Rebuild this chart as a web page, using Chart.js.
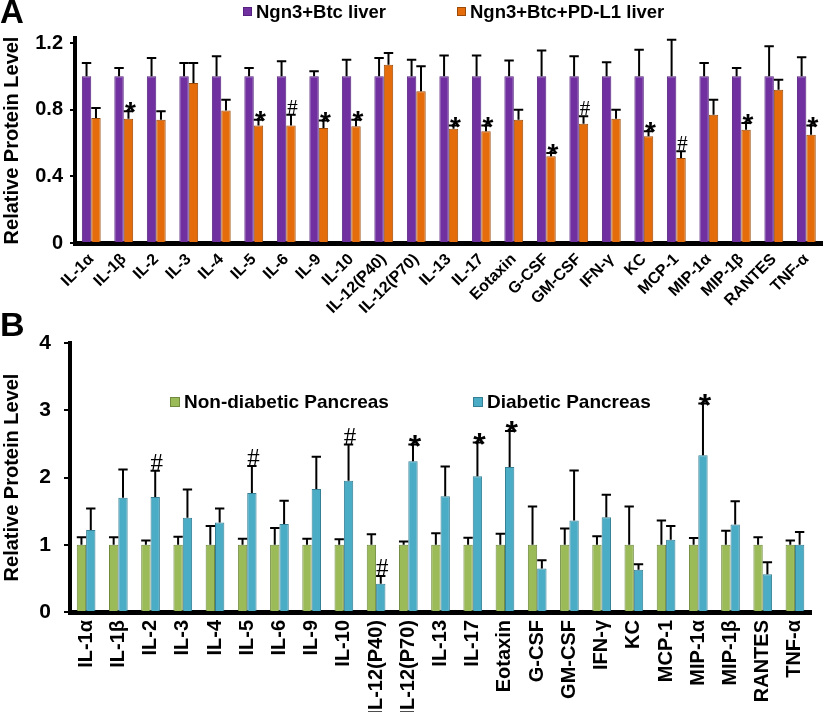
<!doctype html>
<html lang="en">
<head>
  <meta charset="utf-8">
  <title>Relative Protein Level</title>
  <style>
    * {
      margin: 0;
      padding: 0;
    }
    body {
      background: #fff;
      width: 827px;
      height: 712px;
      overflow: hidden;
      position: relative;
    }
    canvas {
      display: block;
      position: absolute;
      left: 0;
    }
    #chartA { top: 0; }
    #chartB { top: 300px; }
  </style>
</head>
<body>
<canvas id="chartA" width="827" height="320"></canvas>
<canvas id="chartB" width="827" height="412"></canvas>
<script src="https://cdn.jsdelivr.net/npm/chart.js"></script>
<script>
  // categories, same for both panels
  const cytokines = ['IL-1α', 'IL-1β', 'IL-2', 'IL-3', 'IL-4', 'IL-5', 'IL-6', 'IL-9', 'IL-10',
    'IL-12(P40)', 'IL-12(P70)', 'IL-13', 'IL-17', 'Eotaxin', 'G-CSF', 'GM-CSF', 'IFN-γ', 'KC',
    'MCP-1', 'MIP-1α', 'MIP-1β', 'RANTES', 'TNF-α'];

  // panel A - liver
  const liverCtrl = [1, 1, 1, 1, 1, 1, 1, 1, 1, 1, 1, 1, 1, 1, 1, 1, 1, 1, 1, 1, 1, 1, 1];
  const liverCtrlErr = [1.08, 1.05, 1.11, 1.08, 1.12, 1.05, 1.09, 1.03, 1.10, 1.11, 1.10, 1.125,
    1.125, 1.095, 1.155, 1.12, 1.085, 1.16, 1.22, 1.08, 1.05, 1.18, 1.115];
  const liverPdl1 = [0.75, 0.745, 0.74, 0.96, 0.795, 0.705, 0.705, 0.69, 0.70, 1.07, 0.91, 0.685,
    0.67, 0.74, 0.52, 0.715, 0.745, 0.64, 0.51, 0.77, 0.68, 0.92, 0.65];
  const liverPdl1Err = [0.81, 0.79, 0.79, 1.08, 0.86, 0.74, 0.77, 0.735, 0.74, 1.14, 1.06, 0.705,
    0.705, 0.80, 0.54, 0.76, 0.80, 0.67, 0.55, 0.86, 0.72, 0.98, 0.705];
  const liverMarks = ['', '*', '', '', '', '*', '#', '*', '*', '', '', '*', '*', '', '*', '#', '',
    '*', '#', '', '*', '', '*'];
  const ticksA = [0, 0.4, 0.8, 1.2];

  // panel B - pancreas
  const pancNormal = [1, 1, 1, 1, 1, 1, 1, 1, 1, 1, 1, 1, 1, 1, 1, 1, 1, 1, 1, 1, 1, 1, 1];
  const pancNormalErr = [1.11, 1.11, 1.065, 1.12, 1.28, 1.09, 1.25, 1.09, 1.08, 1.155, 1.05, 1.17,
    1.105, 1.165, 1.57, 1.24, 1.125, 1.57, 1.36, 1.10, 1.21, 1.11, 1.065];
  const pancDiab = [1.22, 1.70, 1.71, 1.40, 1.33, 1.77, 1.31, 1.83, 1.95, 0.42, 2.24, 1.72, 2.02,
    2.155, 0.645, 1.36, 1.41, 0.63, 1.075, 2.33, 1.30, 0.56, 1.00];
  const pancDiabErr = [1.54, 2.12, 2.10, 1.82, 1.54, 2.17, 1.655, 2.31, 2.49, 0.535, 2.49, 2.165,
    2.52, 2.69, 0.77, 2.105, 1.745, 0.71, 1.28, 3.10, 1.645, 0.74, 1.19];
  const pancMarks = ['', '', '#', '', '', '#', '', '', '#', '#', '*', '', '*', '*', '', '', '', '',
    '', '*', '', '', ''];
  const ticksB = [0, 1, 2, 3, 4];

  Chart.defaults.font.family = "'Liberation Sans', Arial, sans-serif";
  Chart.defaults.color = '#000';

  // error bars, significance marks, legend and panel letter
  function overlay(o) {
    return {
      id: 'overlay' + o.letter,
      afterDatasetsDraw(chart) {
        const ctx = chart.ctx;
        const y = chart.scales.y;
        ctx.save();
        ctx.strokeStyle = '#000';
        ctx.lineWidth = 2;
        o.errors.forEach((err, i) => {
          chart.getDatasetMeta(i).data.forEach((bar, j) => {
            const top = y.getPixelForValue(err[j]);
            const half = bar.width / 2;
            ctx.beginPath();
            ctx.moveTo(bar.x, bar.y);
            ctx.lineTo(bar.x, top);
            ctx.moveTo(bar.x - half, top);
            ctx.lineTo(bar.x + half, top);
            ctx.stroke();
          });
        });
        // marks sit on the second series
        ctx.fillStyle = '#000';
        ctx.textAlign = 'center';
        ctx.textBaseline = 'alphabetic';
        chart.getDatasetMeta(1).data.forEach((bar, j) => {
          const m = o.marks[j];
          if (!m) return;
          const top = y.getPixelForValue(o.errors[1][j]);
          if (m === '*') {
            ctx.font = o.starFont;
            ctx.fillText('*', bar.x + 2, top + o.starDy);
          } else {
            ctx.font = o.hashFont;
            ctx.fillText('#', bar.x + 1.5, top + o.hashDy);
          }
        });
        ctx.restore();
      },
      afterDraw(chart) {
        const ctx = chart.ctx;
        ctx.save();
        ctx.fillStyle = '#000';
        ctx.textAlign = 'left';
        ctx.textBaseline = 'alphabetic';
        ctx.font = o.letterFont;
        ctx.fillText(o.letter, 0, o.letterY);

        ctx.textBaseline = 'middle';
        ctx.font = o.legendFont;
        chart.data.datasets.forEach((ds, i) => {
          const lx = o.legendX[i];
          ctx.fillStyle = ds.backgroundColor;
          ctx.fillRect(lx, o.legendY - o.box / 2, o.box, o.box);
          ctx.strokeStyle = ds.borderColor;
          ctx.lineWidth = 1;
          ctx.strokeRect(lx + 0.5, o.legendY - o.box / 2 + 0.5, o.box - 1, o.box - 1);
          ctx.fillStyle = '#000';
          ctx.fillText(ds.label, lx + o.box + 4, o.legendY + 1);
        });
        ctx.restore();
      }
    };
  }

  function yAxis(max, ticks, width, tickFont, pad, tickLen) {
    return {
      min: 0,
      max: max,
      afterBuildTicks: s => { s.ticks = ticks.map(v => ({value: v})); },
      afterFit: s => { s.width = width; },
      border: {display: true, width: 4, color: '#000'},
      grid: {display: true, drawOnChartArea: false, drawTicks: true, tickLength: tickLen, lineWidth: 2, color: '#000'},
      ticks: {font: tickFont, padding: pad, color: '#000'},
      title: {
        display: true,
        text: 'Relative Protein Level',
        font: {size: 20, weight: 'bold'},
        padding: {top: 0, bottom: 0}
      }
    };
  }

  // panel A config
  const configA = {
    type: 'bar',
    data: {
      labels: cytokines,
      datasets: [{
        label: 'Ngn3+Btc liver',
        data: liverCtrl,
        backgroundColor: '#7030A0',
        borderColor: '#55207e',
        borderWidth: 1
      }, {
        label: 'Ngn3+Btc+PD-L1 liver',
        data: liverPdl1,
        backgroundColor: '#E46C0A',
        borderColor: '#9c4a08',
        borderWidth: 1
      }]
    },
    options: {
      responsive: false,
      animation: false,
      layout: {padding: {top: 38, right: 4, left: 0, bottom: 0}},
      datasets: {bar: {categoryPercentage: 0.58, barPercentage: 1}},
      plugins: {legend: {display: false}, tooltip: {enabled: false}},
      scales: {
        x: {
          afterFit: s => { s.height = 77; },
          border: {display: true, width: 5, color: '#000'},
          grid: {display: true, drawOnChartArea: false, drawTicks: false, tickLength: 0},
          ticks: {font: {size: 16, weight: 'bold'}, minRotation: 45, maxRotation: 45, autoSkip: false, padding: 7}
        },
        y: yAxis(1.23, ticksA, 75, {size: 20, weight: 'bold'}, 7, 5)
      }
    },
    plugins: [overlay({
      letter: 'A', letterFont: 'bold 33px "Liberation Sans", Arial', letterY: 23,
      errors: [liverCtrlErr, liverPdl1Err], marks: liverMarks,
      starFont: 'bold 28px "Liberation Sans", Arial', starDy: 10,
      hashFont: '21px "Liberation Serif", serif', hashDy: -1,
      legendFont: 'bold 18.5px "Liberation Sans", Arial', legendX: [243, 457], legendY: 11.5, box: 9
    })]
  };

  // panel B config
  const configB = {
    type: 'bar',
    data: {
      labels: cytokines,
      datasets: [{
        label: 'Non-diabetic Pancreas',
        data: pancNormal,
        backgroundColor: '#9BBB59',
        borderColor: '#6f8a3c',
        borderWidth: 1
      }, {
        label: 'Diabetic Pancreas',
        data: pancDiab,
        backgroundColor: '#4BACC6',
        borderColor: '#347f94',
        borderWidth: 1
      }]
    },
    options: {
      responsive: false,
      animation: false,
      layout: {padding: {top: 43, right: 2, left: 0, bottom: 0}},
      datasets: {bar: {categoryPercentage: 0.58, barPercentage: 1}},
      plugins: {legend: {display: false}, tooltip: {enabled: false}},
      scales: {
        x: {
          afterFit: s => { s.height = 100; },
          border: {display: true, width: 5, color: '#000'},
          grid: {display: true, drawOnChartArea: false, drawTicks: false, tickLength: 0},
          ticks: {font: {size: 20, weight: 'bold'}, minRotation: 90, maxRotation: 90, autoSkip: false, padding: 8}
        },
        y: yAxis(4, ticksB, 70, {size: 21, weight: 'bold'}, 13, 6)
      }
    },
    plugins: [overlay({
      letter: 'B', letterFont: 'bold 34px "Liberation Sans", Arial', letterY: 36,
      errors: [pancNormalErr, pancDiabErr], marks: pancMarks,
      starFont: 'bold 32px "Liberation Sans", Arial', starDy: 12,
      hashFont: '25px "Liberation Serif", serif', hashDy: 0,
      legendFont: 'bold 19px "Liberation Sans", Arial', legendX: [170, 473], legendY: 102, box: 10
    })]
  };

  const chartA = new Chart(document.getElementById('chartA'), configA);
  const chartB = new Chart(document.getElementById('chartB'), configB);
</script>
</body>
</html>
